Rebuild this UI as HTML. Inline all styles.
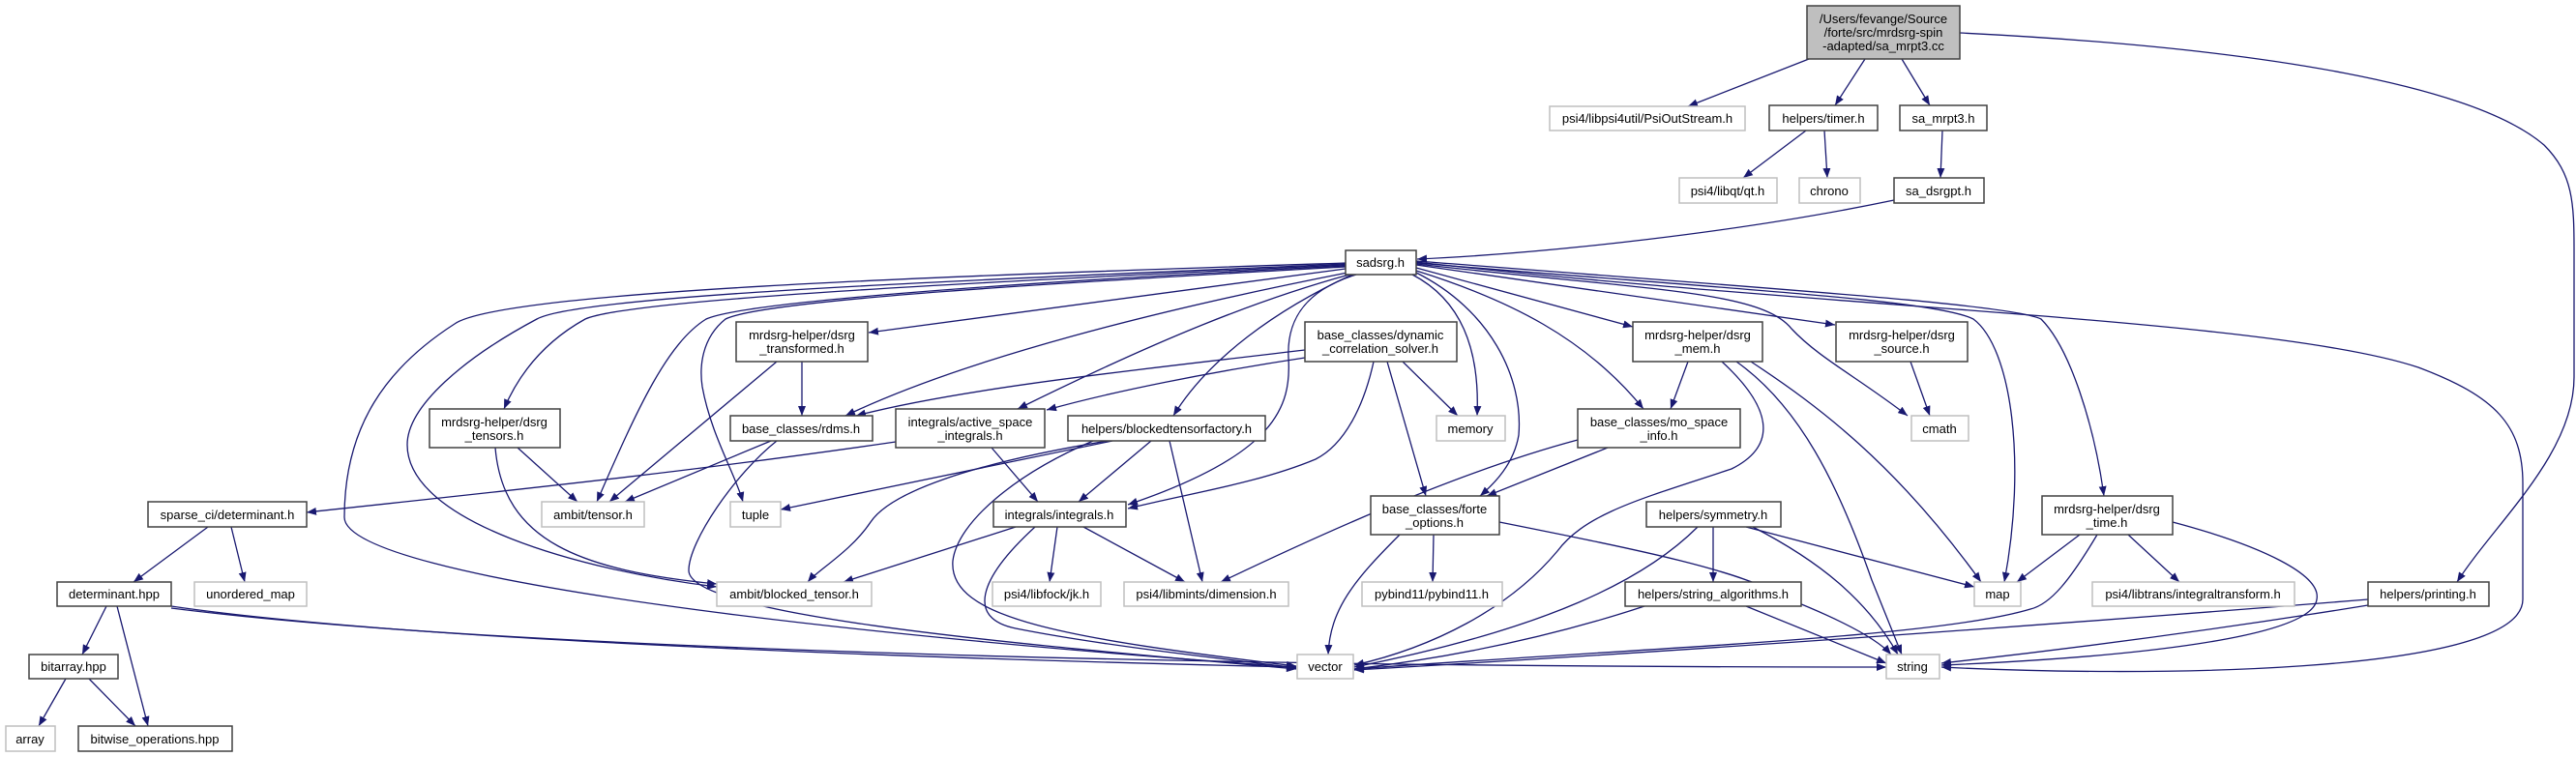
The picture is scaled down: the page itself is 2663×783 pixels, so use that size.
<!DOCTYPE html>
<html><head><meta charset="utf-8"><style>
html,body{margin:0;padding:0;background:#fff;}
svg{display:block;}
text{font-family:"Liberation Sans",Arial,sans-serif;font-size:13px;fill:#000;text-anchor:middle;}
.n{fill:#fff;stroke:#404040;stroke-width:1.5;}
.e{fill:#fff;stroke:#bfbfbf;stroke-width:1.5;}
.g{fill:#bfbfbf;stroke:#404040;stroke-width:1.5;}
path.l{fill:none;stroke:#191970;stroke-width:1.3;marker-end:url(#a);}
</style></head><body>
<svg width="2663" height="783" viewBox="0 0 2663 783" xmlns="http://www.w3.org/2000/svg">
<defs><marker id="a" markerWidth="10" markerHeight="8" refX="10" refY="4" orient="auto" markerUnits="userSpaceOnUse"><path d="M0,0 L10,4 L0,8z" fill="#191970"/></marker></defs>
<g>
<path class="l" d="M1870,61 L1745,110"/>
<path class="l" d="M1928,61 L1897,109"/>
<path class="l" d="M1966,61 L1995,109"/>
<path class="l" d="M2026,34 C2350,50 2560,90 2630,150 C2660,180 2661,210 2661,260 L2661,390 C2661,470 2580,540 2540,602"/>
<path class="l" d="M1867,135 L1802,184"/>
<path class="l" d="M1886,135 L1889,184"/>
<path class="l" d="M2008,135 L2006,184"/>
<path class="l" d="M1958,207 C1800,240 1600,262 1465,268"/>
<path class="l" d="M1391,272 C1000,285 520,300 470,335 C400,380 356,440 356,535 C356,600 900,660 1340,690"/>
<path class="l" d="M1391,273 C1000,290 600,305 555,330 C480,370 421,420 421,460 C421,540 600,590 741,607"/>
<path class="l" d="M1391,274 C1000,292 650,310 605,330 C560,355 535,390 521,423"/>
<path class="l" d="M1391,275 C1050,292 770,312 730,330 C690,355 660,420 617,519"/>
<path class="l" d="M1391,276 C1100,292 790,310 750,330 C725,350 723,380 726,400 C735,450 760,490 768,519"/>
<path class="l" d="M1391,278 L898,344"/>
<path class="l" d="M1393,282 C1200,320 1000,370 874,430"/>
<path class="l" d="M1395,284 C1300,310 1200,350 1052,423"/>
<path class="l" d="M1349,362 C1200,380 1000,400 885,430"/>
<path class="l" d="M1349,370 C1250,385 1150,405 1082,424"/>
<path class="l" d="M1398,284 C1320,320 1250,370 1213,430"/>
<path class="l" d="M1402,284 C1350,300 1330,330 1332,370 C1335,420 1320,470 1166,522"/>
<path class="l" d="M1420,374 C1410,420 1390,460 1360,475 C1300,500 1230,510 1166,526"/>
<path class="l" d="M1460,284 C1510,310 1530,360 1527,430"/>
<path class="l" d="M1464,282 C1540,320 1575,390 1570,450 C1565,480 1545,500 1530,513"/>
<path class="l" d="M1434,374 L1474,513"/>
<path class="l" d="M1450,374 L1507,430"/>
<path class="l" d="M1662,463 L1537,513"/>
<path class="l" d="M1464,280 C1560,310 1640,350 1699,423"/>
<path class="l" d="M1464,277 L1688,338"/>
<path class="l" d="M1745,374 L1727,423"/>
<path class="l" d="M1464,274 L1897,336"/>
<path class="l" d="M1464,273 C1700,300 1820,300 1852,340 C1880,370 1920,390 1972,430"/>
<path class="l" d="M1975,374 L1995,430"/>
<path class="l" d="M1464,272 C1800,300 2000,310 2040,330 C2080,360 2095,480 2072,602"/>
<path class="l" d="M1464,270 C1850,300 2080,315 2110,330 C2140,360 2165,440 2175,513"/>
<path class="l" d="M1464,271 C1900,320 2350,330 2500,380 C2580,410 2608,440 2608,500 L2608,620 C2608,700 2200,700 2007,690"/>
<path class="l" d="M1780,374 C1830,420 1840,460 1790,485 C1700,515 1640,530 1610,570 C1560,630 1480,670 1400,688"/>
<path class="l" d="M1795,374 C1860,420 1900,500 1935,600 L1966,677"/>
<path class="l" d="M1810,374 C1880,420 1960,480 2048,602"/>
<path class="l" d="M1805,545 L2041,607"/>
<path class="l" d="M1812,545 C1880,580 1930,620 1962,677"/>
<path class="l" d="M1771,545 L1771,602"/>
<path class="l" d="M1755,545 C1700,600 1600,650 1400,690"/>
<path class="l" d="M1700,627 C1600,660 1500,680 1400,692"/>
<path class="l" d="M1805,627 L1950,686"/>
<path class="l" d="M1447,553 C1400,600 1375,630 1373,677"/>
<path class="l" d="M1482,553 L1481,602"/>
<path class="l" d="M1550,540 C1700,570 1800,590 1850,620 C1900,640 1940,660 1955,677"/>
<path class="l" d="M2150,553 L2085,602"/>
<path class="l" d="M2200,553 L2253,602"/>
<path class="l" d="M2168,553 C2140,600 2120,625 2099,630 C2000,660 1700,670 1400,692"/>
<path class="l" d="M2246,540 C2340,565 2400,595 2395,620 C2390,660 2200,680 2007,688"/>
<path class="l" d="M2448,620 C2200,640 1800,670 1400,693"/>
<path class="l" d="M2448,626 C2300,650 2150,670 2007,686"/>
<path class="l" d="M797,456 L646,519"/>
<path class="l" d="M803,456 C760,490 712,560 712,590 C712,640 1100,670 1340,692"/>
<path class="l" d="M829,374 L829,430"/>
<path class="l" d="M803,374 L630,519"/>
<path class="l" d="M535,463 L597,519"/>
<path class="l" d="M512,463 C520,560 600,590 741,604"/>
<path class="l" d="M1150,456 L807,527"/>
<path class="l" d="M1145,456 C1000,480 920,510 900,540 C880,570 845,590 835,602"/>
<path class="l" d="M1190,456 L1115,519"/>
<path class="l" d="M1209,456 L1243,602"/>
<path class="l" d="M1130,456 C1050,490 990,540 985,580 C980,640 1100,660 1340,689"/>
<path class="l" d="M1025,463 L1073,519"/>
<path class="l" d="M926,457 C700,490 500,510 317,530"/>
<path class="l" d="M1093,545 L1085,602"/>
<path class="l" d="M1120,545 L1225,602"/>
<path class="l" d="M1070,545 C1010,600 1000,640 1050,650 C1150,670 1300,685 1340,691"/>
<path class="l" d="M1050,545 L872,602"/>
<path class="l" d="M1631,455 C1500,490 1350,560 1262,602"/>
<path class="l" d="M215,545 L138,602"/>
<path class="l" d="M239,545 L253,602"/>
<path class="l" d="M110,627 L85,677"/>
<path class="l" d="M121,627 L153,751"/>
<path class="l" d="M177,627 C400,660 900,680 1340,690"/>
<path class="l" d="M177,629 C500,670 1200,690 1950,690"/>
<path class="l" d="M68,702 L40,751"/>
<path class="l" d="M92,702 L140,751"/>
</g>
<g>
<rect class="g" x="1868" y="6" width="158" height="55"/>
<text x="1947" y="24">/Users/fevange/Source</text><text x="1947" y="38">/forte/src/mrdsrg-spin</text><text x="1947" y="52">-adapted/sa_mrpt3.cc</text>
<rect class="e" x="1602" y="110" width="202" height="25"/><text x="1703" y="127">psi4/libpsi4util/PsiOutStream.h</text>
<rect class="n" x="1829" y="109" width="112" height="26"/><text x="1885" y="127">helpers/timer.h</text>
<rect class="n" x="1964" y="109" width="90" height="26"/><text x="2009" y="127">sa_mrpt3.h</text>
<rect class="e" x="1736" y="184" width="101" height="26"/><text x="1786" y="202">psi4/libqt/qt.h</text>
<rect class="e" x="1860" y="184" width="63" height="26"/><text x="1891" y="202">chrono</text>
<rect class="n" x="1958" y="184" width="93" height="26"/><text x="2004" y="202">sa_dsrgpt.h</text>
<rect class="n" x="1391" y="259" width="73" height="25"/><text x="1427" y="276">sadsrg.h</text>
<rect class="n" x="761" y="333" width="136" height="41"/><text x="829" y="351">mrdsrg-helper/dsrg</text><text x="829" y="365">_transformed.h</text>
<rect class="n" x="1349" y="333" width="157" height="41"/><text x="1427" y="351">base_classes/dynamic</text><text x="1427" y="365">_correlation_solver.h</text>
<rect class="n" x="1688" y="333" width="134" height="41"/><text x="1755" y="351">mrdsrg-helper/dsrg</text><text x="1755" y="365">_mem.h</text>
<rect class="n" x="1898" y="333" width="136" height="41"/><text x="1966" y="351">mrdsrg-helper/dsrg</text><text x="1966" y="365">_source.h</text>
<rect class="n" x="444" y="423" width="135" height="40"/><text x="511" y="441">mrdsrg-helper/dsrg</text><text x="511" y="455">_tensors.h</text>
<rect class="n" x="755" y="430" width="147" height="26"/><text x="828" y="448">base_classes/rdms.h</text>
<rect class="n" x="926" y="423" width="154" height="40"/><text x="1003" y="441">integrals/active_space</text><text x="1003" y="455">_integrals.h</text>
<rect class="n" x="1104" y="430" width="204" height="26"/><text x="1206" y="448">helpers/blockedtensorfactory.h</text>
<rect class="e" x="1485" y="430" width="71" height="26"/><text x="1520" y="448">memory</text>
<rect class="n" x="1631" y="423" width="168" height="40"/><text x="1715" y="441">base_classes/mo_space</text><text x="1715" y="455">_info.h</text>
<rect class="e" x="1976" y="430" width="59" height="26"/><text x="2005" y="448">cmath</text>
<rect class="n" x="153" y="519" width="164" height="26"/><text x="235" y="537">sparse_ci/determinant.h</text>
<rect class="e" x="560" y="519" width="106" height="26"/><text x="613" y="537">ambit/tensor.h</text>
<rect class="e" x="755" y="519" width="52" height="26"/><text x="781" y="537">tuple</text>
<rect class="n" x="1027" y="519" width="137" height="26"/><text x="1095" y="537">integrals/integrals.h</text>
<rect class="n" x="1417" y="513" width="133" height="40"/><text x="1483" y="531">base_classes/forte</text><text x="1483" y="545">_options.h</text>
<rect class="n" x="1702" y="519" width="139" height="26"/><text x="1771" y="537">helpers/symmetry.h</text>
<rect class="n" x="2111" y="513" width="135" height="40"/><text x="2178" y="531">mrdsrg-helper/dsrg</text><text x="2178" y="545">_time.h</text>
<rect class="n" x="59" y="602" width="118" height="25"/><text x="118" y="619">determinant.hpp</text>
<rect class="e" x="201" y="602" width="116" height="25"/><text x="259" y="619">unordered_map</text>
<rect class="e" x="741" y="602" width="160" height="25"/><text x="821" y="619">ambit/blocked_tensor.h</text>
<rect class="e" x="1026" y="602" width="112" height="25"/><text x="1082" y="619">psi4/libfock/jk.h</text>
<rect class="e" x="1162" y="602" width="170" height="25"/><text x="1247" y="619">psi4/libmints/dimension.h</text>
<rect class="e" x="1408" y="602" width="145" height="25"/><text x="1480" y="619">pybind11/pybind11.h</text>
<rect class="n" x="1680" y="602" width="182" height="25"/><text x="1771" y="619">helpers/string_algorithms.h</text>
<rect class="e" x="2041" y="602" width="48" height="25"/><text x="2065" y="619">map</text>
<rect class="e" x="2163" y="602" width="209" height="25"/><text x="2267" y="619">psi4/libtrans/integraltransform.h</text>
<rect class="n" x="2448" y="602" width="125" height="25"/><text x="2510" y="619">helpers/printing.h</text>
<rect class="n" x="30" y="677" width="92" height="25"/><text x="76" y="694">bitarray.hpp</text>
<rect class="e" x="1341" y="677" width="58" height="25"/><text x="1370" y="694">vector</text>
<rect class="e" x="1950" y="677" width="55" height="25"/><text x="1977" y="694">string</text>
<rect class="e" x="6" y="751" width="51" height="26"/><text x="31" y="769">array</text>
<rect class="n" x="81" y="751" width="159" height="26"/><text x="160" y="769">bitwise_operations.hpp</text>
</g>
</svg>
</body></html>
